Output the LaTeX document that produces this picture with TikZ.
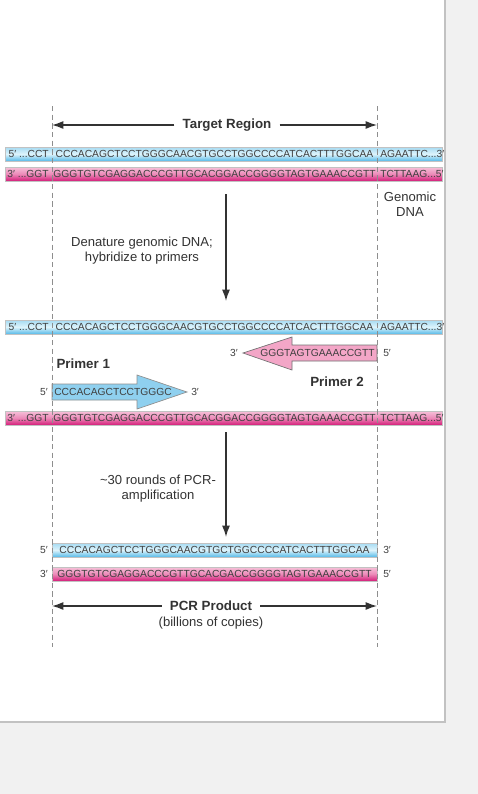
\documentclass[tikz,border=0pt]{standalone}
\usepackage{fontspec}
\setmainfont{Liberation Sans}
\usetikzlibrary{arrows.meta}
\definecolor{pagegray}{HTML}{F1F1F1}
\definecolor{bordergray}{HTML}{C2C2C2}
\definecolor{guidegray}{HTML}{8E8E8E}
\definecolor{inkgray}{HTML}{333333}
\definecolor{seqgray}{HTML}{404040}
\definecolor{bluetop}{HTML}{A5DBF3}
\definecolor{bluemid}{HTML}{DDF3FB}
\definecolor{bluebot}{HTML}{56BAE8}
\definecolor{pinktop}{HTML}{F6C2DA}
\definecolor{pinkmid}{HTML}{EC8AB8}
\definecolor{pinkbot}{HTML}{D31C79}
\definecolor{primerblue}{HTML}{8FD0EF}
\definecolor{primerpink}{HTML}{F3A6C7}
\begin{document}
\begin{tikzpicture}[x=0.75pt,y=-0.75pt,
    seq/.style={font=\fontsize{7.7}{9}\selectfont, text=seqgray, inner sep=0pt},
    lbl/.style={font=\fontsize{9.8}{11.3}\selectfont, text=inkgray, align=center, inner sep=0pt},
    blbl/.style={font=\fontsize{10}{12}\selectfont\bfseries, text=inkgray, inner sep=1pt},
    bluebar/.style={draw=bordergray, line width=0.5pt, top color=bluetop, bottom color=bluebot, middle color=bluemid},
    pinkbar/.style={draw=bordergray, line width=0.5pt, top color=pinktop, bottom color=pinkbot, middle color=pinkmid},
    primerA/.style={fill=primerblue, draw=guidegray, line width=0.5pt},
    primerB/.style={fill=primerpink, draw=guidegray!80!black, line width=0.5pt},
    guide/.style={draw=guidegray, line width=0.7pt, dash pattern=on 4pt off 2.5pt},
    span/.style={draw=inkgray, line width=1pt, -{Latex[length=8.5pt,width=6pt]}},
    down/.style={draw=inkgray, line width=1.1pt, -{Latex[length=8.5pt,width=6pt]}}]
   \useasboundingbox (0,0) rectangle (478,794);
   \fill[pagegray] (0,0) rectangle (478,794);
   \filldraw[fill=white, draw=bordergray, line width=0.8pt] (-2,-2) rectangle (445,722);
   % genomic DNA
   \path[bluebar] (5,147) rectangle (442,161);
   \path[pinkbar] (5,167) rectangle (442,181);
   \node[seq, anchor=east] (g1a) at (49,154) {5′ ...CCT};
   \node[seq] (g1b) at (214.5,154) {CCCACAGCTCCTGGGCAACGTGCCTGGCCCCATCACTTTGGCAA};
   \node[seq, anchor=west] (g1c) at (380,154) {AGAATTC...3′};
   \node[seq, anchor=east] (g2a) at (49,174) {3′ ...GGT};
   \node[seq] (g2b) at (214.5,174) {GGGTGTCGAGGACCCGTTGCACGGACCGGGGTAGTGAAACCGTT};
   \node[seq, anchor=west] (g2c) at (380,174) {TCTTAAG...5′};
   \node[lbl] (gdna) at (410,204) {Genomic\\DNA};
   % denatured strands and primers
   \path[bluebar] (5,320) rectangle (442,334);
   \path[pinkbar] (5,411) rectangle (442,425);
   \node[seq, anchor=east] (s1a) at (49,327) {5′ ...CCT};
   \node[seq] (s1b) at (214.5,327) {CCCACAGCTCCTGGGCAACGTGCCTGGCCCCATCACTTTGGCAA};
   \node[seq, anchor=west] (s1c) at (380,327) {AGAATTC...3′};
   \node[seq, anchor=east] (s2a) at (49,418) {3′ ...GGT};
   \node[seq] (s2b) at (214.5,418) {GGGTGTCGAGGACCCGTTGCACGGACCGGGGTAGTGAAACCGTT};
   \node[seq, anchor=west] (s2c) at (380,418) {TCTTAAG...5′};
   \filldraw[primerB] (377,345) -- (292,345) -- (292,337) -- (243,353) -- (292,370) -- (292,361) -- (377,361) -- cycle;
   \node[seq, anchor=east] (p2) at (375,353) {GGGTAGTGAAACCGTT};
   \node[seq, anchor=east] (p2a) at (238,353) {3′};
   \node[seq, anchor=west] (p2b) at (383,353) {5′};
   \node[blbl] (p2l) at (337,382) {Primer 2};
   \filldraw[primerA] (52,384) -- (137,384) -- (137,375) -- (187,392) -- (137,409) -- (137,400) -- (52,400) -- cycle;
   \node[seq, anchor=west] (p1) at (54,392) {CCCACAGCTCCTGGGC};
   \node[seq, anchor=east] (p1a) at (48,392) {5′};
   \node[seq, anchor=west] (p1b) at (191,392) {3′};
   \node[blbl, anchor=west] (p1l) at (55,364) {Primer 1};
   % PCR product
   \path[bluebar] (52,543) rectangle (377,557);
   \path[pinkbar] (52,567) rectangle (377,581);
   \node[seq] (q1) at (214.5,550) {CCCACAGCTCCTGGGCAACGTGCTGGCCCCATCACTTTGGCAA};
   \node[seq] (q2) at (214.5,574) {GGGTGTCGAGGACCCGTTGCACGACCGGGGTAGTGAAACCGTT};
   \node[seq, anchor=east] (q1a) at (48,550) {5′};
   \node[seq, anchor=west] (q1b) at (383,550) {3′};
   \node[seq, anchor=east] (q2a) at (48,574) {3′};
   \node[seq, anchor=west] (q2b) at (383,574) {5′};
   % guides
   \coordinate (L1) at (52,106);
   \coordinate (L2) at (52,647);
   \coordinate (R1) at (377,106);
   \coordinate (R2) at (377,647);
   \draw[guide] (L1) -- (L2);
   \draw[guide] (R1) -- (R2);
   % spans
   \node[blbl, inner xsep=6pt] (target) at (227,125) {Target Region};
   \coordinate (tl) at (52,125);
   \coordinate (tr) at (377,125);
   \draw[span] (target) -- (tl);
   \draw[span] (target) -- (tr);
   \node[blbl, inner xsep=6pt] (pcr) at (211,606) {PCR Product};
   \node[lbl] (pcrsub) at (211,623) {(billions of copies)};
   \coordinate (pl) at (52,606);
   \coordinate (pr) at (377,606);
   \draw[span] (pcr) -- (pl);
   \draw[span] (pcr) -- (pr);
   % steps
   \coordinate (a1) at (226,194);
   \coordinate (b1) at (226,301);
   \draw[down] (a1) -- (b1);
   \node[lbl] (denat) at (142,250.5) {Denature genomic DNA;\\hybridize to primers};
   \coordinate (a2) at (226,432);
   \coordinate (b2) at (226,537);
   \draw[down] (a2) -- (b2);
   \node[lbl] (rounds) at (158,489) {\textasciitilde 30 rounds of PCR-\\amplification};
 \end{tikzpicture}
\end{document}
